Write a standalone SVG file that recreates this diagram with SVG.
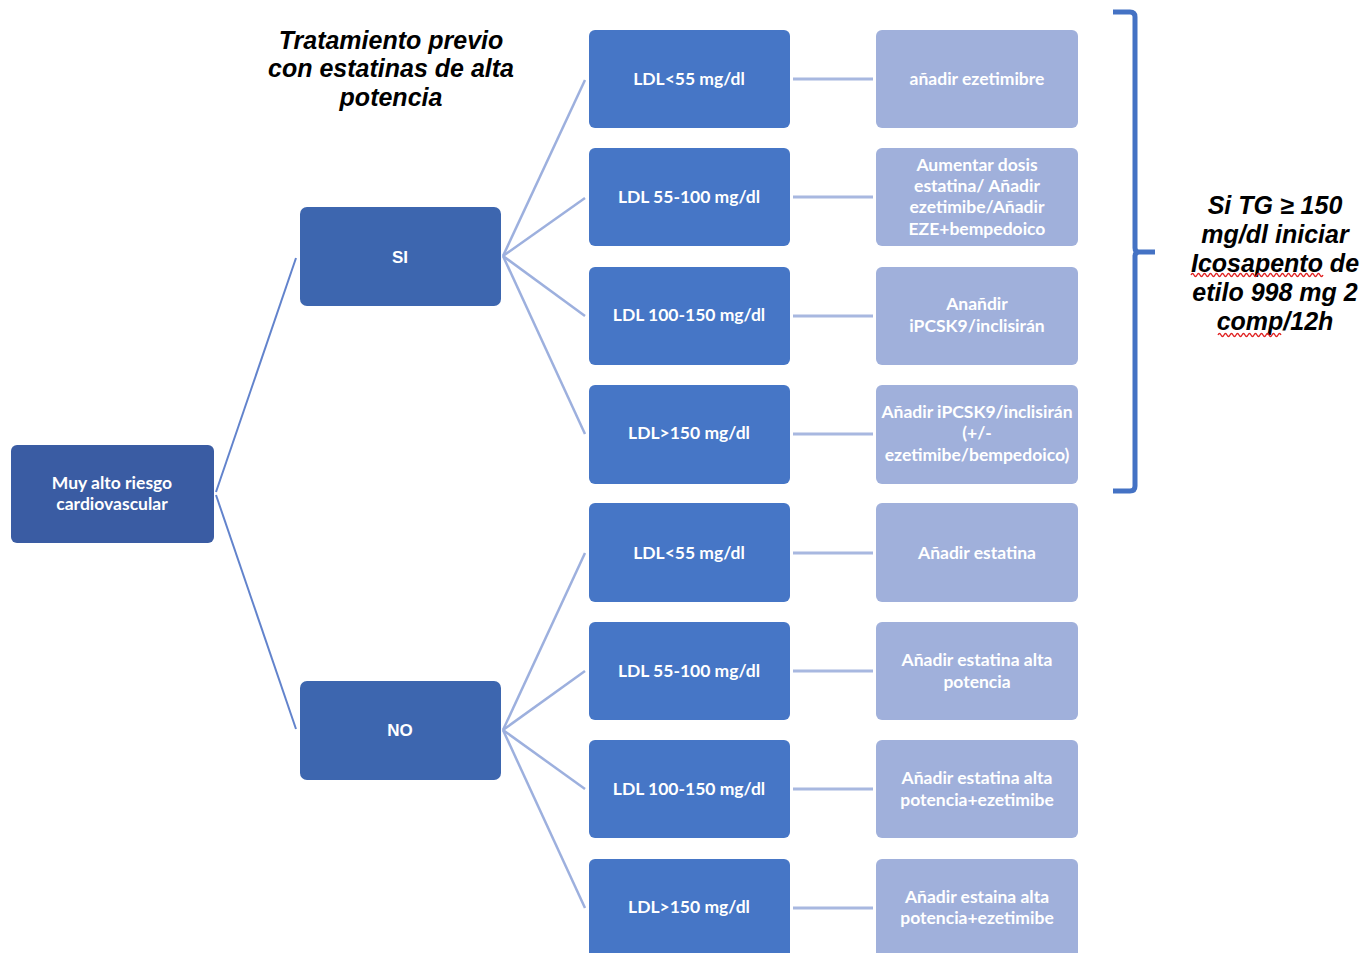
<svg xmlns="http://www.w3.org/2000/svg" width="1366" height="953" viewBox="0 0 1366 953">
<style>
.root{fill:#3A5CA3}
.mid{fill:#3D66AF}
.ldl{fill:#4676C6}
.res{fill:#A0B0DB}
.t{font-family:Lato,"Open Sans",sans-serif;font-weight:bold;font-size:17.5px;fill:#fff;text-anchor:middle}
.ta{font-family:"Liberation Sans",Arial,sans-serif;font-weight:bold;font-size:17px;fill:#fff;text-anchor:middle}
.it{font-family:"Liberation Sans",Arial,sans-serif;font-weight:bold;font-style:italic;font-size:25px;fill:#000;text-anchor:middle}
.c1{stroke:#6283CC;stroke-width:2;fill:none}
.c2{stroke:#9DB0DE;stroke-width:2.5;fill:none}
.c3{stroke:#A8B8E0;stroke-width:3;fill:none}
.sq{fill:none;stroke:#E02020;stroke-width:1.3}
</style>
<rect width="1366" height="953" fill="#fff"/>
<g id="connectors">
<line class="c1" x1="216" y1="492" x2="296" y2="258"/>
<line class="c1" x1="216" y1="495" x2="296" y2="729"/>
<line class="c2" x1="503" y1="256" x2="585" y2="80"/>
<line class="c2" x1="503" y1="256" x2="585" y2="198"/>
<line class="c2" x1="503" y1="256" x2="585" y2="316"/>
<line class="c2" x1="503" y1="256" x2="585" y2="434"/>
<line class="c2" x1="503" y1="730" x2="585" y2="553"/>
<line class="c2" x1="503" y1="730" x2="585" y2="671"/>
<line class="c2" x1="503" y1="730" x2="585" y2="789"/>
<line class="c2" x1="503" y1="730" x2="585" y2="908"/>
<line class="c3" x1="793" y1="79" x2="873" y2="79"/>
<line class="c3" x1="793" y1="197" x2="873" y2="197"/>
<line class="c3" x1="793" y1="316" x2="873" y2="316"/>
<line class="c3" x1="793" y1="434" x2="873" y2="434"/>
<line class="c3" x1="793" y1="553" x2="873" y2="553"/>
<line class="c3" x1="793" y1="671" x2="873" y2="671"/>
<line class="c3" x1="793" y1="789" x2="873" y2="789"/>
<line class="c3" x1="793" y1="908" x2="873" y2="908"/>
</g>
<g id="title"><text class="it"><tspan x="391" y="49">Tratamiento previo</tspan><tspan x="391" y="77">con estatinas de alta</tspan><tspan x="391" y="106">potencia</tspan></text></g>
<g id="root"><rect class="root" x="11" y="445" width="203" height="98" rx="6"/><text class="t"><tspan x="112" y="489">Muy alto riesgo</tspan><tspan x="112" y="510">cardiovascular</tspan></text></g>
<g id="si"><rect class="mid" x="300" y="207" width="201" height="99" rx="7"/><text class="ta" x="400" y="263">SI</text></g>
<g id="no"><rect class="mid" x="300" y="681" width="201" height="99" rx="7"/><text class="ta" x="400" y="736">NO</text></g>
<g id="ldl1"><rect class="ldl" x="589" y="30" width="201" height="98" rx="6"/><text class="t" x="689" y="85">LDL&lt;55 mg/dl</text></g>
<g id="ldl2"><rect class="ldl" x="589" y="148" width="201" height="98" rx="6"/><text class="t" x="689" y="203">LDL 55-100 mg/dl</text></g>
<g id="ldl3"><rect class="ldl" x="589" y="267" width="201" height="98" rx="6"/><text class="t" x="689" y="321">LDL 100-150 mg/dl</text></g>
<g id="ldl4"><rect class="ldl" x="589" y="385" width="201" height="99" rx="6"/><text class="t" x="689" y="439">LDL&gt;150 mg/dl</text></g>
<g id="ldl5"><rect class="ldl" x="589" y="503" width="201" height="99" rx="6"/><text class="t" x="689" y="559">LDL&lt;55 mg/dl</text></g>
<g id="ldl6"><rect class="ldl" x="589" y="622" width="201" height="98" rx="6"/><text class="t" x="689" y="677">LDL 55-100 mg/dl</text></g>
<g id="ldl7"><rect class="ldl" x="589" y="740" width="201" height="98" rx="6"/><text class="t" x="689" y="795">LDL 100-150 mg/dl</text></g>
<g id="ldl8"><rect class="ldl" x="589" y="859" width="201" height="100" rx="6"/><text class="t" x="689" y="913">LDL&gt;150 mg/dl</text></g>
<g id="res1"><rect class="res" x="876" y="30" width="202" height="98" rx="6"/><text class="t" x="977" y="85">añadir ezetimibre</text></g>
<g id="res2"><rect class="res" x="876" y="148" width="202" height="98" rx="6"/><text class="t"><tspan x="977" y="171">Aumentar dosis</tspan><tspan x="977" y="192">estatina/ Añadir</tspan><tspan x="977" y="213">ezetimibe/Añadir</tspan><tspan x="977" y="235">EZE+bempedoico</tspan></text></g>
<g id="res3"><rect class="res" x="876" y="267" width="202" height="98" rx="6"/><text class="t"><tspan x="977" y="310">Anañdir</tspan><tspan x="977" y="332">iPCSK9/inclisirán</tspan></text></g>
<g id="res4"><rect class="res" x="876" y="385" width="202" height="99" rx="6"/><text class="t"><tspan x="977" y="418">Añadir iPCSK9/inclisirán</tspan><tspan x="977" y="439">(+/-</tspan><tspan x="977" y="461">ezetimibe/bempedoico)</tspan></text></g>
<g id="res5"><rect class="res" x="876" y="503" width="202" height="99" rx="6"/><text class="t" x="977" y="559">Añadir estatina</text></g>
<g id="res6"><rect class="res" x="876" y="622" width="202" height="98" rx="6"/><text class="t"><tspan x="977" y="666">Añadir estatina alta</tspan><tspan x="977" y="688">potencia</tspan></text></g>
<g id="res7"><rect class="res" x="876" y="740" width="202" height="98" rx="6"/><text class="t"><tspan x="977" y="784">Añadir estatina alta</tspan><tspan x="977" y="806">potencia+ezetimibe</tspan></text></g>
<g id="res8"><rect class="res" x="876" y="859" width="202" height="100" rx="6"/><text class="t"><tspan x="977" y="903">Añadir estaina alta</tspan><tspan x="977" y="924">potencia+ezetimibe</tspan></text></g>
<g id="bracket"><path d="M1113,12 H1130 Q1135,12 1135,17 V248 Q1135,252 1139,252 H1155 M1139,252 Q1135,252 1135,256 V486 Q1135,491 1130,491 H1113" fill="none" stroke="#4472C4" stroke-width="5"/></g>
<g id="note"><text class="it"><tspan x="1275" y="214">Si TG ≥ 150</tspan><tspan x="1275" y="243">mg/dl iniciar</tspan><tspan x="1275" y="272">Icosapento de</tspan><tspan x="1275" y="301">etilo 998 mg 2</tspan><tspan x="1275" y="330">comp/12h</tspan></text>
<path class="sq" d="M1191,275 q1.5,-3 3,0 t3,0 t3,0 t3,0 t3,0 t3,0 t3,0 t3,0 t3,0 t3,0 t3,0 t3,0 t3,0 t3,0 t3,0 t3,0 t3,0 t3,0 t3,0 t3,0 t3,0 t3,0 t3,0 t3,0 t3,0 t3,0 t3,0 t3,0 t3,0 t3,0 t3,0 t3,0 t3,0 t3,0 t3,0 t3,0 t3,0 t3,0 t3,0 t3,0 t3,0 t3,0 t3,0 t3,0"/>
<path class="sq" d="M1218,335 q1.5,-3 3,0 t3,0 t3,0 t3,0 t3,0 t3,0 t3,0 t3,0 t3,0 t3,0 t3,0 t3,0 t3,0 t3,0 t3,0 t3,0 t3,0 t3,0 t3,0 t3,0 t3,0"/></g>
</svg>
